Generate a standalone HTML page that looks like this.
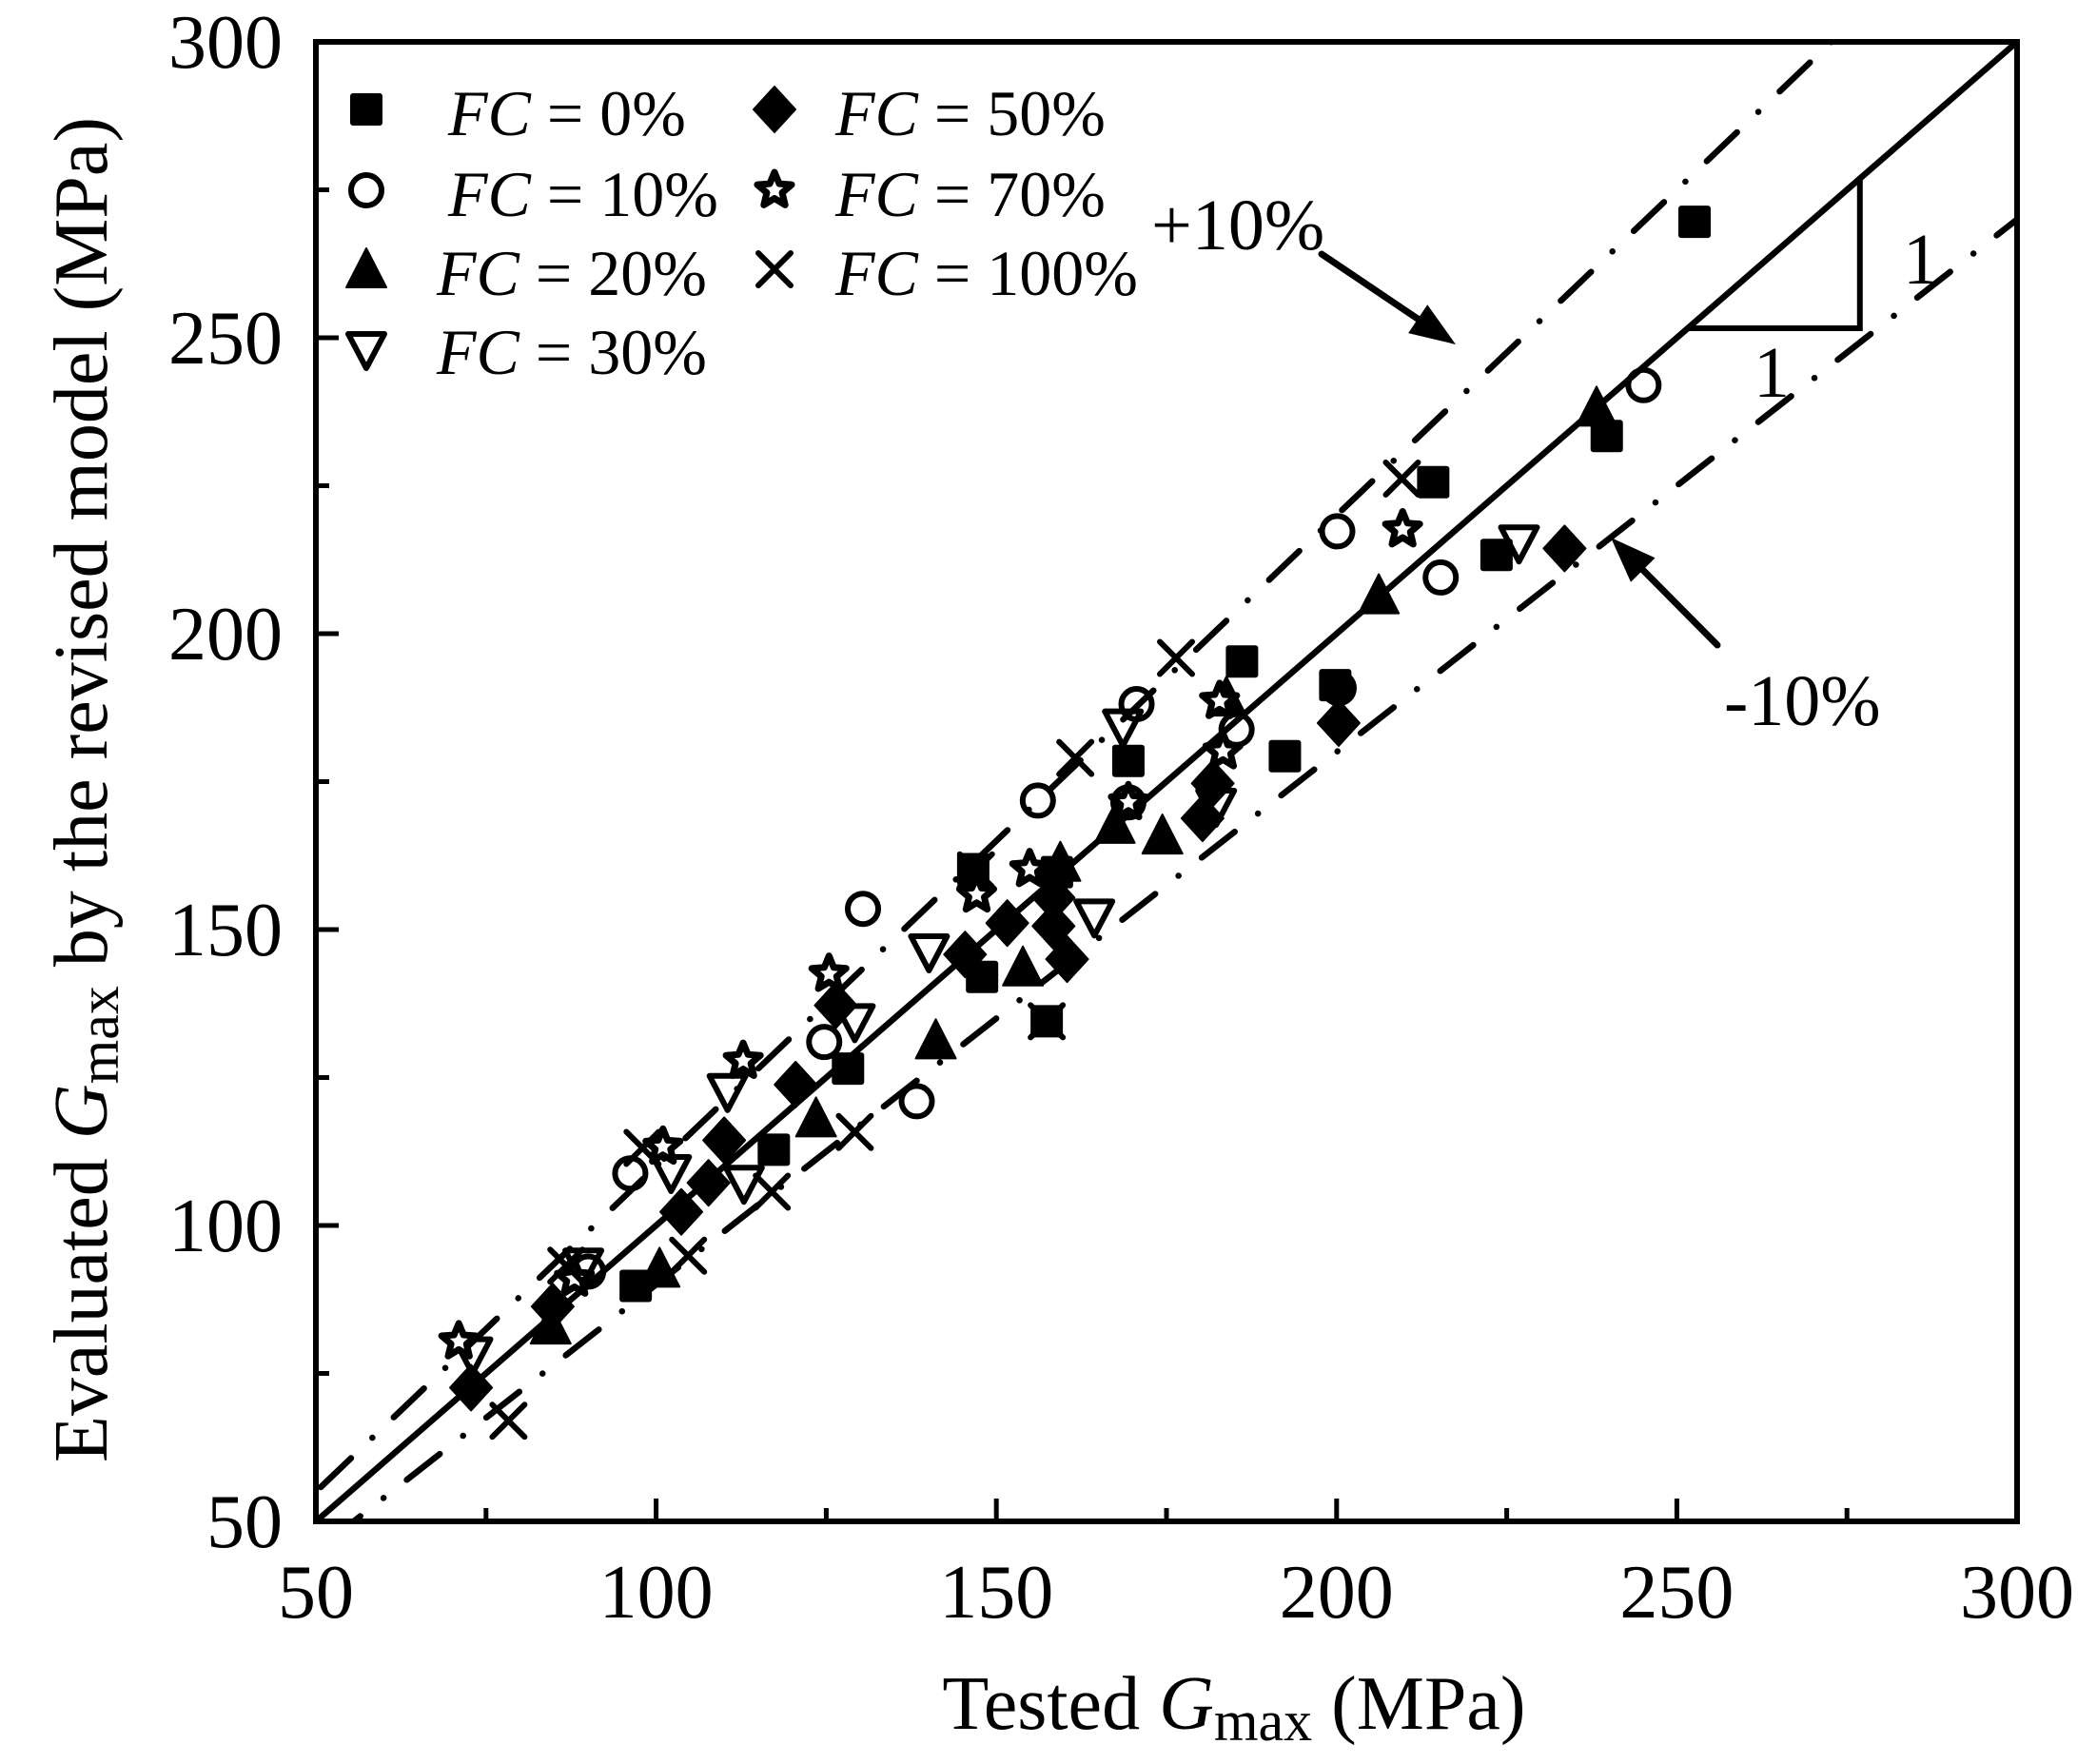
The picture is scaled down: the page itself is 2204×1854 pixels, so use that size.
<!DOCTYPE html>
<html><head><meta charset="utf-8"><style>
html,body{margin:0;padding:0;background:#fff;}
svg{display:block;}
text{font-family:"Liberation Serif","Times New Roman",serif;fill:#000;}
</style></head><body>
<svg id="chart" xmlns="http://www.w3.org/2000/svg" width="2204" height="1854" viewBox="0 0 2204 1854">
<g id="lines"></g><g id="marks"></g><g id="axes"></g>
<g id="legend"></g>
<g id="annot"></g>
</svg>
<script>
const xTicks=[50,100,150,200,250,300];
const yTicks=[50,100,150,200,250,300];
const fc0=[[252.6,269.6],[239.7,233.4],[214.2,225.6],[223.5,213.3],[186.1,195.3],[199.8,191.3],[192.4,179.3],[169.4,178.5],[146.6,160.2],[158.9,159.7],[147.9,142.0],[157.4,134.5],[128.2,126.5],[117.3,112.8],[97.0,89.8]];
const fc10=[[245.1,242.0],[200.1,217.3],[215.3,209.5],[200.3,190.8],[185.3,183.8],[170.6,188.1],[156.1,171.8],[169.4,171.5],[130.4,153.5],[124.7,131.0],[138.3,121.0],[96.2,108.8],[90.0,92.2]];
const fc20=[[238.2,238.2],[206.2,206.5],[183.8,189.2],[167.4,167.7],[174.4,165.9],[159.4,161.3],[153.9,143.6],[141.1,131.3],[123.5,118.1],[100.5,92.7],[84.5,83.1]];
const fc30=[[226.8,215.4],[182.3,170.9],[168.6,184.3],[164.4,152.2],[140.1,146.3],[129.2,134.5],[110.5,122.7],[112.9,107.2],[102.2,109.0],[89.3,93.2],[73.0,78.2]];
const fc50=[[233.5,214.4],[200.3,184.9],[181.8,174.7],[180.3,168.8],[160.4,145.0],[158.4,155.4],[151.6,151.1],[145.4,145.8],[126.4,137.2],[120.5,123.8],[110.0,114.4],[107.7,107.2],[103.7,102.3],[84.8,86.3],[72.8,72.6],[158.4,150.6]];
const fc70=[[209.7,217.6],[182.8,188.6],[183.3,180.1],[169.4,171.5],[154.9,160.2],[147.1,155.9],[125.4,142.5],[112.8,127.8],[101.0,113.3],[71.0,80.4],[88.0,91.0]];
const fc100=[[209.6,226.2],[176.4,195.9],[161.6,179.0],[157.4,134.5],[129.2,115.8],[117.0,105.7],[104.7,94.9],[98.0,113.1],[86.8,93.2],[78.3,67.0],[147.0,160.0]];
const NS='http://www.w3.org/2000/svg';
const L=332,R=2120,T=44,B=1599;
function sx(v){return L+(v-50)*(R-L)/250;}
function sy(v){return B-(v-50)*(B-T)/250;}
function mk(tag,attrs,parent){const e=document.createElementNS(NS,tag);for(const k in attrs)e.setAttribute(k,attrs[k]);parent.appendChild(e);return e;}
const lines=document.getElementById('lines'),marks=document.getElementById('marks'),axes=document.getElementById('axes'),legend=document.getElementById('legend'),annot=document.getElementById('annot');
// clip for reference lines
const defs=mk('defs',{},document.getElementById('chart'));
const cp=mk('clipPath',{id:'pc'},defs);mk('rect',{x:L,y:T,width:R-L,height:B-T},cp);
lines.setAttribute('clip-path','url(#pc)');
function refLine(f,name,dash){const e=mk('line',{x1:sx(40),y1:sy(40*f),x2:sx(310),y2:sy(310*f),stroke:'#000','stroke-width':6.5,'stroke-linecap':'round'},lines);if(dash)e.setAttribute('stroke-dasharray',dash);

}
refLine(1,'line-1-to-1',null);
refLine(1.1,'line-plus-10-percent','44 31 0.1 31');
refLine(0.9,'line-minus-10-percent','44 31 0.1 31');
// marker drawers
function starPath(cx,cy,ro,ri){let d='';for(let i=0;i<10;i++){const r=i%2?ri:ro;const a=-Math.PI/2+i*Math.PI/5;d+=(i?'L':'M')+(cx+r*Math.cos(a)).toFixed(1)+' '+(cy+r*Math.sin(a)).toFixed(1);}return d+'Z';}
function drawMarker(type,cx,cy,g){
 if(type==='square')return mk('rect',{x:cx-17,y:cy-17,width:34,height:34,rx:3,fill:'#000'},g);
 if(type==='circle')return mk('circle',{cx:cx,cy:cy,r:16,fill:'none',stroke:'#000','stroke-width':6},g);
 if(type==='tri')return mk('path',{d:`M${cx} ${cy-22}L${cx+21} ${cy+19}L${cx-21} ${cy+19}Z`,fill:'#000',stroke:'#000','stroke-width':2,'stroke-linejoin':'round'},g);
 if(type==='itri')return mk('path',{d:`M${cx-19} ${cy-16}L${cx+19} ${cy-16}L${cx} ${cy+20}Z`,fill:'none',stroke:'#000','stroke-width':6,'stroke-linejoin':'round'},g);
 if(type==='diamond')return mk('path',{d:`M${cx} ${cy-24}L${cx+22} ${cy}L${cx} ${cy+24}L${cx-22} ${cy}Z`,fill:'#000',stroke:'#000','stroke-width':2,'stroke-linejoin':'round'},g);
 if(type==='star')return mk('path',{d:starPath(cx,cy,19,8.5),fill:'#fff',stroke:'#000','stroke-width':7,'stroke-linejoin':'round'},g);
 if(type==='cross')return mk('path',{d:`M${cx-17} ${cy-17}L${cx+17} ${cy+17}M${cx+17} ${cy-17}L${cx-17} ${cy+17}`,fill:'none',stroke:'#000','stroke-width':6,'stroke-linecap':'round'},g);
}
const series=[['fc-0',fc0,'square'],['fc-10',fc10,'circle'],['fc-20',fc20,'tri'],['fc-30',fc30,'itri'],['fc-50',fc50,'diamond'],['fc-70',fc70,'star'],['fc-100',fc100,'cross']];
series.forEach(([name,data,type])=>{
 const g=mk('g',{},marks);
 
 
 data.forEach((p,i)=>{const m=drawMarker(type,sx(p[0]),sy(p[1]),g);
  
  });
});
// axes frame
const frame=mk('rect',{x:L,y:T,width:R-L,height:B-T,fill:'none',stroke:'#000','stroke-width':6},axes);


for(let v=50;v<=300;v+=25){const maj=(v%50===0);const len=maj?24:14;
 mk('line',{x1:sx(v),y1:B,x2:sx(v),y2:B-len,stroke:'#000','stroke-width':5},axes);
 mk('line',{x1:L,y1:sy(v),x2:L+len,y2:sy(v),stroke:'#000','stroke-width':5},axes);}
xTicks.forEach(v=>{const t=mk('text',{x:sx(v),y:1700,'font-size':80,'text-anchor':'middle'},axes);t.textContent=v;
 
 });
yTicks.forEach(v=>{const t=mk('text',{x:297,y:sy(v)+27,'font-size':80,'text-anchor':'end'},axes);t.textContent=v;
 
 });
// axis titles
const xt=mk('text',{x:1297,y:1817,'font-size':80,'text-anchor':'middle'},axes);
xt.innerHTML='Tested <tspan font-style="italic">G</tspan><tspan font-size="60" dy="12">max</tspan><tspan dy="-12"> (MPa)</tspan>';


const yt=mk('text',{x:0,y:0,'font-size':80,'text-anchor':'middle',transform:'translate(112,830) rotate(-90)'},axes);
yt.innerHTML='Evaluated <tspan font-style="italic">G</tspan><tspan font-size="60" dy="12">max</tspan><tspan dy="-12"> by the revised model (MPa)</tspan>';


// legend
const legendItems=[['square','0%',385,115,471,142],['circle','10%',385,200,471,227],['tri','20%',385,283,459,310],['itri','30%',385,367,459,393],['diamond','50%',814,115,878,142],['star','70%',814,200,878,227],['cross','100%',814,283,878,310]];
legendItems.forEach(([type,lab,mx,my,tx,ty])=>{const g=mk('g',{},legend);
 
 
 drawMarker(type,mx,my,g);
 const t=mk('text',{x:tx,y:ty,'font-size':68},g);
 t.innerHTML='<tspan font-style="italic">FC</tspan> = '+lab;});
// annotations
function txt(s,x,y,name){const t=mk('text',{x:x,y:y,'font-size':76},annot);t.textContent=s;
 
 }
txt('+10%',1210,262,'label-plus-10');
txt('-10%',1812,762,'label-minus-10');
function arrow(x1,y1,x2,y2,name){const a=Math.atan2(y2-y1,x2-x1),h=48,w=18;
 const bx=x2-h*Math.cos(a),by=y2-h*Math.sin(a);
 const g=mk('g',{},annot);
 
 
 mk('line',{x1:x1,y1:y1,x2:bx,y2:by,stroke:'#000','stroke-width':7,'stroke-linecap':'round'},g);
 mk('path',{d:`M${x2} ${y2}L${bx+w*Math.sin(a)} ${by-w*Math.cos(a)}L${bx-w*Math.sin(a)} ${by+w*Math.cos(a)}Z`,fill:'#000'},g);}
arrow(1389,267,1530,362,'arrow-plus-10');
arrow(1805,678,1693,565,'arrow-minus-10');
const tri=mk('path',{d:`M${sx(251.6)} ${sy(251.6)}L${sx(276.9)} ${sy(251.6)}L${sx(276.9)} ${sy(276.9)}`,fill:'none',stroke:'#000','stroke-width':6},annot);


txt('1',2000,298,'slope-label-vertical');
txt('1',1843,417,'slope-label-horizontal');
</script>
</body></html>
